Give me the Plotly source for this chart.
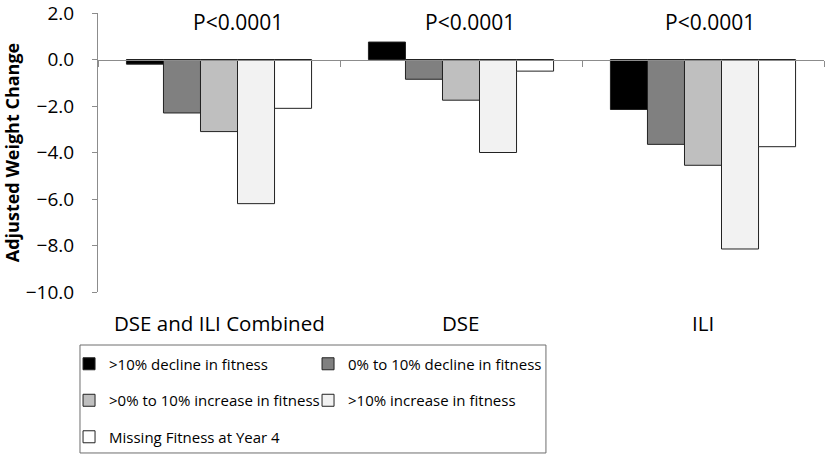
import plotly.graph_objects as go

categories = ["DSE and ILI Combined", "DSE", "ILI"]
series_names = [
    ">10% decline in fitness",
    "0% to 10% decline in fitness",
    ">0% to 10% increase in fitness",
    ">10% increase in fitness",
    "Missing Fitness at Year 4",
]
decline_gt10 = [-0.2, 0.75, -2.15]
decline_0_10 = [-2.3, -0.85, -3.65]
increase_0_10 = [-3.1, -1.75, -4.55]
increase_gt10 = [-6.2, -4.0, -8.15]
missing = [-2.1, -0.5, -3.75]
p_labels = ["P<0.0001", "P<0.0001", "P<0.0001"]
y_ticks = [2, 0, -2, -4, -6, -8, -10]

series_values = [decline_gt10, decline_0_10, increase_0_10, increase_gt10, missing]
colors = ["#000000", "#808080", "#BFBFBF", "#F2F2F2", "#FFFFFF"]
legend_ids = ["legend", "legend2", "legend", "legend2", "legend"]

FONT = "Open Sans, Lato, sans-serif"

fig = go.Figure()
for name, vals, col, lg in zip(series_names, series_values, colors, legend_ids):
    fig.add_trace(go.Bar(
        x=categories, y=vals, name=name,
        marker=dict(color=col, line=dict(color="#222222", width=1)),
        legend=lg, legendgroup=name,
    ))

for cat, txt, xs in zip(categories, p_labels, [19, 9, 7]):
    fig.add_annotation(x=cat, y=1.6, xref="x", yref="y", text=txt, showarrow=False,
                       xshift=xs, font=dict(size=21, color="#000000", family=FONT))

for cat in categories:
    fig.add_annotation(x=cat, y=0, xref="x", yref="paper", text=cat, showarrow=False,
                       yanchor="top", yshift=-15,
                       font=dict(size=20.5, color="#000000", family=FONT))

# legend border
fig.add_shape(type="rect", xref="paper", yref="paper", x0=-0.0248, x1=0.617,
              y0=-0.577, y1=-0.19, line=dict(color="#6e6e6e", width=1),
              fillcolor="rgba(0,0,0,0)")

fig.update_layout(
    width=827, height=455,
    margin=dict(l=98, r=3, t=13, b=163, autoexpand=False),
    paper_bgcolor="white", plot_bgcolor="white",
    font=dict(family=FONT, size=18, color="#000000"),
    barmode="group", bargap=0.235, bargroupgap=0,
    showlegend=True,
    legend=dict(x=-0.0399, xanchor="left", y=-0.199, yanchor="top", orientation="v",
                tracegroupgap=14, font=dict(size=15, family=FONT), bgcolor="rgba(0,0,0,0)"),
    legend2=dict(x=0.2893, xanchor="left", y=-0.199, yanchor="top", orientation="v",
                 tracegroupgap=14, font=dict(size=15, family=FONT), bgcolor="rgba(0,0,0,0)"),
    xaxis=dict(type="category", anchor="free", position=10 / 12, showline=True,
               linecolor="#8c8c8c", linewidth=1, ticks="outside", tickson="boundaries",
               ticklen=6, tickcolor="#8c8c8c", showticklabels=False, showgrid=False,
               zeroline=False, automargin=False),
    yaxis=dict(range=[-10, 2], tickvals=y_ticks, tickformat=".1f", showline=True,
               linecolor="#8c8c8c", linewidth=1, ticks="outside", ticklen=5,
               tickcolor="#8c8c8c", showgrid=False, zeroline=False, automargin=False,
               ticklabeloverflow="allow",
               tickfont=dict(size=19, family=FONT), ticklabelstandoff=14,
               title=dict(text="<b>Adjusted Weight Change</b>", standoff=1,
                          font=dict(size=18, family=FONT))),
)

fig.write_html("out.html", config={"displayModeBar": False},
               post_script="document.body.style.margin='0px';")
